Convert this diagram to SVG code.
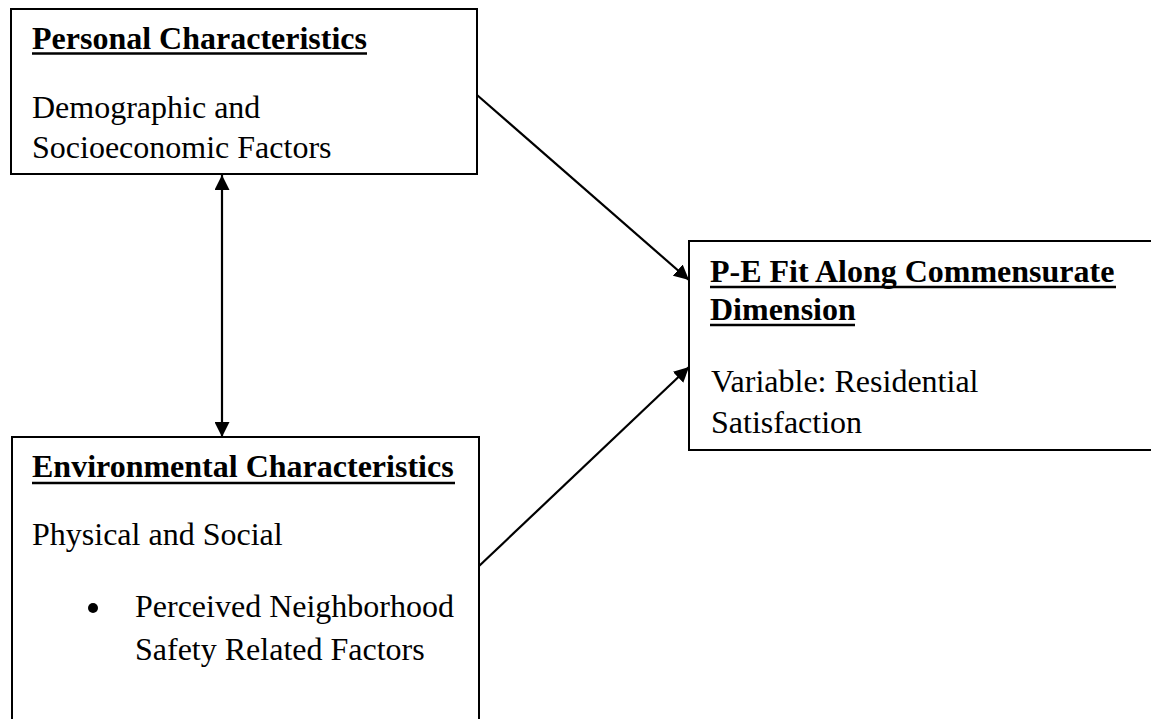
<svg xmlns="http://www.w3.org/2000/svg" width="1151" height="719" viewBox="0 0 1151 719">
<defs>
<style>
.box{fill:#fff;stroke:#000;stroke-width:2}
.t{font-family:"Liberation Serif","Times New Roman",serif;font-size:32px;fill:#000}
.b{font-weight:bold}
.ul{stroke:#000;stroke-width:2.6}
.c{stroke:#000;stroke-width:2.2;fill:none}
</style>
<marker id="ah" viewBox="0 0 15 15" refX="15" refY="7.5" markerWidth="15" markerHeight="15" markerUnits="userSpaceOnUse" orient="auto-start-reverse">
<path d="M0,0 L15,7.5 L0,15 Z" fill="#000"/>
</marker>
</defs>
<rect width="1151" height="719" fill="#fff"/>
<g id="connectors">
<line class="c" x1="222" y1="175" x2="222" y2="437" marker-start="url(#ah)" marker-end="url(#ah)"/>
<line class="c" x1="477" y1="95" x2="689" y2="280" marker-end="url(#ah)"/>
<line class="c" x1="478" y1="567" x2="689" y2="367" marker-end="url(#ah)"/>
</g>
<g id="personal">
<rect class="box" x="11" y="9" width="466" height="165"/>
<text class="t b" x="32" y="49">Personal Characteristics</text>
<line class="ul" x1="32" y1="53.5" x2="367" y2="53.5"/>
<text class="t" x="32" y="118">Demographic and</text>
<text class="t" x="32" y="158">Socioeconomic Factors</text>
</g>
<g id="environmental">
<rect class="box" x="12" y="437" width="467" height="300"/>
<text class="t b" x="32" y="477">Environmental Characteristics</text>
<line class="ul" x1="32" y1="483" x2="455" y2="483"/>
<text class="t" x="32" y="545">Physical and Social</text>
<circle cx="93" cy="608" r="5" fill="#000"/>
<text class="t" x="135" y="617">Perceived Neighborhood</text>
<text class="t" x="135" y="660">Safety Related Factors</text>
</g>
<g id="pe-fit">
<rect class="box" x="689" y="241" width="500" height="209"/>
<text class="t b" x="710" y="282">P-E Fit Along Commensurate</text>
<line class="ul" x1="710" y1="287" x2="1116" y2="287"/>
<text class="t b" x="710" y="320">Dimension</text>
<line class="ul" x1="710" y1="325" x2="855" y2="325"/>
<text class="t" x="711" y="392">Variable: Residential</text>
<text class="t" x="711" y="433">Satisfaction</text>
</g>
</svg>
